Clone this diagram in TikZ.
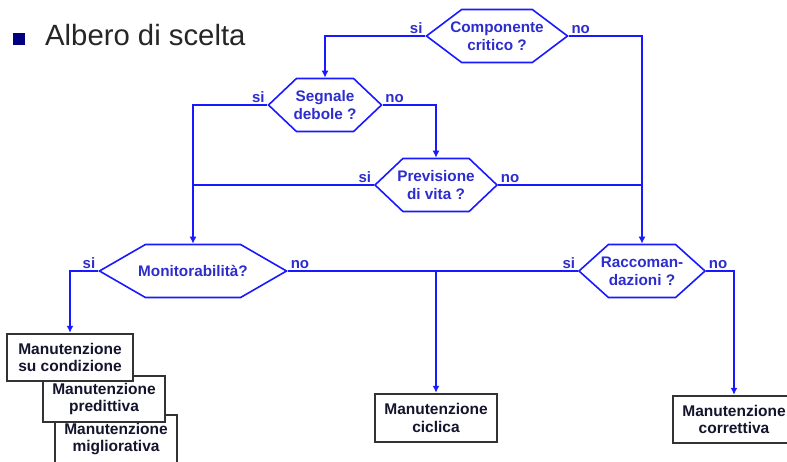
\documentclass[tikz,border=0pt]{standalone}
\usepackage{fontspec}
\setmainfont{Liberation Sans}
\usetikzlibrary{positioning,arrows.meta,shapes.symbols}

\definecolor{linkblue}{RGB}{25,25,255}
\definecolor{textblue}{RGB}{45,45,205}
\definecolor{bulletnavy}{RGB}{0,0,128}
\definecolor{boxtext}{RGB}{20,20,45}

\tikzset{
  quest/.style={shape=signal, signal to=east and west, draw=linkblue, line width=1.6pt, inner sep=0pt, minimum height=53},
  qtext/.style={font=\fontsize{15.3}{18}\selectfont\bfseries, text=textblue, align=center},
  lab/.style={font=\fontsize{15}{18}\selectfont\bfseries, text=textblue, inner sep=2.5pt},
  mbox/.style={draw=black!80, line width=2.4pt, fill=white, inner sep=0pt, align=center, text=boxtext, font=\fontsize{15.5}{17.5}\selectfont\bfseries},
  link/.style={draw=linkblue, line width=1.6pt},
}

\begin{document}
\begin{tikzpicture}[x=1pt, y=-1pt, >={Latex[length=7pt,width=7pt]}]
\useasboundingbox (0,0) rectangle (787,462);
\clip (0,0) rectangle (787,462);
% title
\fill [bulletnavy] (13,33) rectangle (25,45);
\node [anchor=base west, inner sep=0pt, font=\fontsize{29.3}{34}\selectfont, text=black!85] (title) at (45,46) {Albero di scelta};

% decisions
\node [quest, minimum width=141, signal pointer angle=74, label={[qtext]center:{Componente\\critico ?}}] (crit) at (497,36) {};
\node [quest, minimum width=113, signal pointer angle=87, label={[qtext]center:{Segnale\\debole ?}}] (seg) at (325,105) {};
\node [quest, minimum width=122, signal pointer angle=87, label={[qtext]center:{Previsione\\di vita ?}}] (prev) at (436,185) {};
\node [quest, minimum width=187, signal pointer angle=60, label={[qtext]center:{Monitorabilità?}}] (mon) at (193,271) {};
\node [quest, minimum width=126, signal pointer angle=84, label={[qtext]center:{Raccoman-\\dazioni ?}}] (racc) at (642,271) {};

% outcomes
\node [mbox, minimum width=122, minimum height=48] (migl) at (116,439) {Manutenzione\\migliorativa};
\node [mbox, minimum width=122, minimum height=46] (pred) at (104,399) {Manutenzione\\predittiva};
\node [mbox, minimum width=126, minimum height=47] (cond) at (70,357.5) {Manutenzione\\su condizione};
\node [mbox, minimum width=122, minimum height=48] (cic) at (436,418) {Manutenzione\\ciclica};
\node [mbox, minimum width=122, minimum height=47] (corr) at (734,419.5) {Manutenzione\\correttiva};

% connectors
\draw [link,->] (crit.west) -| (seg.north);
\draw [link,->] (crit.east) -| (racc.north);
\draw [link,->] (seg.west) -| (mon.north);
\draw [link,->] (seg.east) -| (prev.north);
\draw [link] (prev.west) -- (prev.west -| mon.north);
\draw [link] (prev.east) -- (prev.east -| racc.north);
\draw [link,->] (mon.west) -| (cond.north);
\draw [link] (mon.east) -- (racc.west);
\draw [link,->] (mon.east -| cic.north) -- (cic.north);
\draw [link,->] (racc.east) -| (corr.north);

% si / no
\node [lab, anchor=south east] (crit-si) at (crit.west) {si};
\node [lab, anchor=south west] (crit-no) at (crit.east) {no};
\node [lab, anchor=south east] (seg-si) at (seg.west) {si};
\node [lab, anchor=south west] (seg-no) at (seg.east) {no};
\node [lab, anchor=south east] (prev-si) at (prev.west) {si};
\node [lab, anchor=south west] (prev-no) at (prev.east) {no};
\node [lab, anchor=south east] (mon-si) at (mon.west) {si};
\node [lab, anchor=south west] (mon-no) at (mon.east) {no};
\node [lab, anchor=south east] (racc-si) at (racc.west) {si};
\node [lab, anchor=south west] (racc-no) at (racc.east) {no};
\end{tikzpicture}
\end{document}
